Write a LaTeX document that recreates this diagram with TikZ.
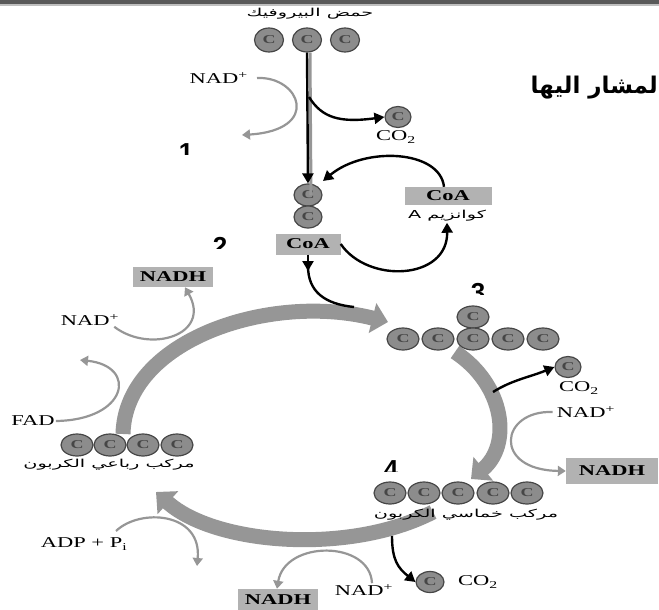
\documentclass[tikz,border=0pt]{standalone}
\usepackage{fontspec}
\setmainfont{Liberation Serif}
\newfontfamily\labelfont[FakeStretch=1.5]{Liberation Serif}
\newfontfamily\arabicfont[Script=Arabic,FakeStretch=1.75]{DejaVu Sans}
\newfontfamily\notefont[Script=Arabic]{DejaVu Sans}
\newfontfamily\digitfont{Liberation Sans}
\TeXXeTstate=1
\usetikzlibrary{positioning,arrows.meta,shapes.geometric}
\definecolor{arcgray}{RGB}{150,150,150}
\definecolor{boxgray}{RGB}{178,178,178}
\definecolor{cfill}{RGB}{140,140,140}
\definecolor{cring}{RGB}{70,70,70}
\tikzset{carbon node/.style={ellipse,draw=cring,line width=1.2pt,fill=cfill,minimum width=32pt,minimum height=22pt,inner sep=0pt,font=\labelfont\fontsize{12}{12}\selectfont\bfseries,text=cring},
box node/.style={fill=boxgray,inner sep=2pt,font=\labelfont\fontsize{15}{15}\selectfont\bfseries},
text node/.style={inner sep=1pt,font=\labelfont\fontsize{15}{15}\selectfont},
arabic node/.style={inner sep=1pt,font=\arabicfont\fontsize{11}{11}\selectfont},
digit node/.style={anchor=north,inner sep=0pt,font=\digitfont\fontsize{26}{26}\selectfont\bfseries},
gray arrow/.style={draw=arcgray,line width=2.2pt,-{Triangle[width=10pt,length=8pt]}},
black arrow/.style={draw=black,line width=2.4pt,-{Triangle[width=11pt,length=10pt]}},
cycle arc/.style={draw=arcgray,line width=15pt,-{Triangle[width=30pt,length=16pt]}},
}

\begin{document}
\begin{tikzpicture}[x=1pt,y=-1pt]
	\useasboundingbox (0,0) rectangle (659,610);
	\fill[black!65] (0,0) rectangle (659,4);
	\fill[black!25] (0,4) rectangle (659,6);
	\node[font=\notefont\fontsize{23}{23}\selectfont\bfseries,anchor=east,inner sep=0pt] (note) at (658,88) {\beginR لمشار اليها\endR};
	
	% pyruvic acid
	\node[arabic node] (pyruvic) at (310,14) {\beginR حمض البيروفيك\endR};
	\foreach \x [count=\i] in {269,307,345}
		\node[carbon node,minimum width=29pt,minimum height=24pt] (p\i) at (\x,40) {C};
	\node[carbon node,minimum width=28pt] (c1) at (308,195) {C};
	\node[carbon node,minimum width=28pt] (c2) at (308,217) {C};
	\node[box node,minimum width=65pt,minimum height=21pt] (coa1) at (308,244) {CoA};
	\node[box node,minimum width=87pt,minimum height=18pt] (coa2) at (448,196) {CoA};
	\node[arabic node] (coenz) at (447,216) {\beginR كوانزيم A\endR};
	
	\draw[arcgray,line width=3pt] ([xshift=3pt]p2.south) -- ([xshift=3pt,yshift=-12pt]c1.north);
	\draw[black arrow] (p2.south) -- (c1.north);
	\coordinate (branch) at (309,97);
	
	\node[text node,anchor=east] (nad1) at (249,78) {NAD\textsuperscript{+}};
	\coordinate (nad1end) at (242,135);
	\draw[gray arrow] ([xshift=8pt]nad1.east) .. controls (300,76) and (322,130) .. (nad1end);
	
	\node[carbon node,minimum width=26pt,minimum height=21pt] (co2a) at (398,117) {C};
	\node[text node] (co2atext) at (396,137) {CO\textsubscript{2}};
	\draw[black arrow] (branch) .. controls (322,118) and (340,123) .. (co2a.west);
	
	\draw[black arrow] ([xshift=-4pt]coa2.north) .. controls (440,150) and (365,146) .. (323,181);
	\draw[black arrow] (coa1.east) .. controls (368,284) and (448,280) .. (coenz.south);
	
	% the cycle
	\coordinate (topA) at (123,434);
	\coordinate (topB) at (388,322);
	\coordinate (rightA) at (455,352);
	\coordinate (rightB) at (471,479);
	\coordinate (botA) at (433,512);
	\coordinate (botB) at (156,492);
	\draw[cycle arc] (topA) .. controls (125,340) and (270,292) .. (topB);
	\draw[cycle arc] (rightA) .. controls (505,385) and (512,445) .. (rightB);
	\draw[cycle arc] (botA) .. controls (350,555) and (215,545) .. (botB);
	
	\coordinate (coadown) at (308,271);
	\draw[black arrow] (coa1.south) -- (coadown);
	\draw[black,line width=2.4pt] (308,266) .. controls (308,292) and (325,304) .. (354,307);
	
	% six carbons
	\node[carbon node] (s0) at (473,317) {C};
	\foreach \x [count=\i] in {403,438,473,508,543}
		\node[carbon node] (s\i) at (\x,339) {C};
	
	\node[carbon node,minimum width=26pt,minimum height=21pt] (co2b) at (568,367) {C};
	\node[text node] (co2btext) at (579,388) {CO\textsubscript{2}};
	\draw[black arrow] (493,392) .. controls (512,380) and (530,377) .. (co2b.west);
	\node[text node] (nad4) at (586,412) {NAD\textsuperscript{+}};
	\node[box node,minimum width=92pt,minimum height=26pt] (nadh3) at (612,471) {NADH};
	\draw[gray arrow] ([xshift=-3pt]nad4.west) .. controls (500,410) and (492,470) .. (nadh3.west);
	
	% five carbons
	\foreach \x [count=\i] in {390,424,458,493,527}
		\node[carbon node] (e\i) at (\x,493) {C};
	\node[arabic node] (five) at (466,515) {\beginR مركب خماسي الكربون\endR};
	\node[carbon node,minimum width=28pt,minimum height=21pt] (co2c) at (430,582) {C};
	\node[text node] (co2ctext) at (478,582) {CO\textsubscript{2}};
	\draw[black arrow] (392,536) .. controls (392,560) and (398,568) .. (co2c.west);
	
	\node[text node] (nad3) at (364,590) {NAD\textsuperscript{+}};
	\node[box node,minimum width=80pt,minimum height=22pt] (nadh2) at (278,600) {NADH};
	\draw[gray arrow] ([xshift=8pt]nad3.north) .. controls (370,540) and (285,540) .. ([xshift=-1pt]nadh2.north);
	
	\node[text node] (adp) at (84,544) {ADP + P\textsubscript{i}};
	\coordinate (adpend) at (197,566);
	\draw[gray arrow] (116,531) .. controls (140,508) and (202,512) .. (adpend);
	
	% four carbons
	\foreach \x [count=\i] in {77,110,143,177}
		\node[carbon node] (f\i) at (\x,445) {C};
	\node[arabic node] (four) at (109,465) {\beginR مركب رباعي الكربون\endR};
	\node[text node] (fad) at (33,421) {FAD};
	\coordinate (fadend) at (80,360);
	\draw[gray arrow] (fad.east) .. controls (128,420) and (138,366) .. (fadend);
	
	\node[text node] (nad2) at (90,320) {NAD\textsuperscript{+}};
	\node[box node,minimum width=80pt,minimum height=20pt] (nadh1) at (173,277) {NADH};
	\draw[gray arrow] ([xshift=-6pt]nad2.south east) .. controls (150,354) and (212,335) .. ([xshift=12pt]nadh1.south);
	
	% step numbers, only their tops show
	\foreach \n/\x/\y in {1/186/143,2/220/237,3/478/283,4/391/460}{
		\begin{scope}
			\clip (\x-20,\y-3) rectangle (\x+20,\y+11);
			\node[digit node] (n\n) at (\x,\y) {\n};
		\end{scope}
	}
\end{tikzpicture}
\end{document}
